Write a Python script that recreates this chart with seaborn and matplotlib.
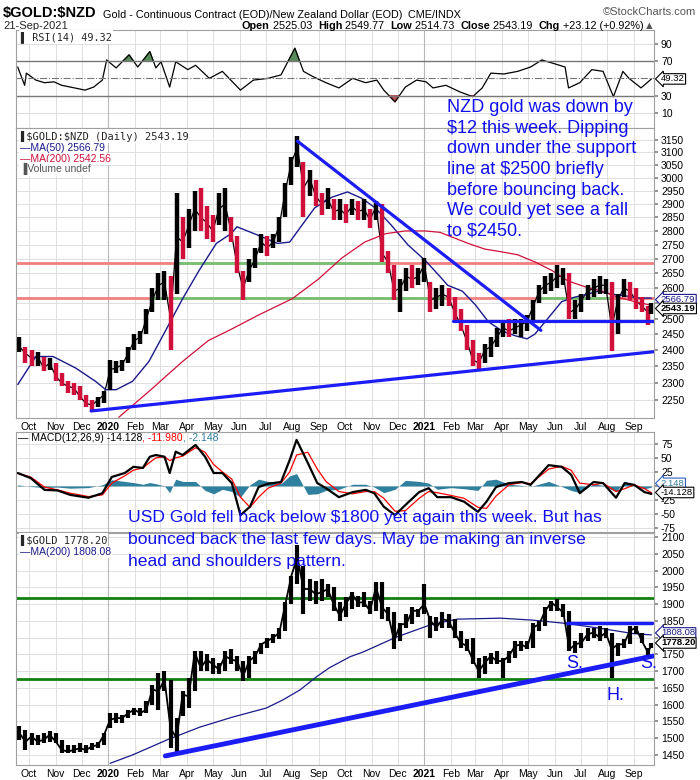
import numpy as np
import pandas as pd
import matplotlib
matplotlib.use("Agg")
import matplotlib.pyplot as plt
import matplotlib.ticker as ticker
import seaborn as sns

sns.set_theme(style="white")
plt.rcParams["font.family"] = ["Liberation Sans", "DejaVu Sans"]
plt.rcParams["text.parse_math"] = False  # dollar signs are plain text here

# ---------------- data ----------------
# weekly bars, Friday closes, last bar is 21-Sep-2021
weeks = list(pd.date_range("2019-09-20", periods=105, freq="W-FRI")) + [pd.Timestamp("2021-09-21")]

nzd_close = [2410, 2390, 2375, 2380, 2345, 2360, 2320, 2300, 2290, 2285,
             2260, 2240, 2235, 2250, 2265, 2340, 2345, 2355, 2390, 2430,
             2440, 2500, 2560, 2610, 2620, 2500, 2780, 2760, 2820, 2880,
             2850, 2830, 2800, 2880, 2900, 2800, 2680, 2600, 2660, 2700,
             2760, 2740, 2760, 2820, 2950, 3060, 3120, 2960, 3000, 2930,
             2900, 2920, 2870, 2880, 2860, 2890, 2870, 2880, 2840, 2890,
             2720, 2690, 2590, 2600, 2640, 2630, 2640, 2680, 2560, 2570,
             2580, 2570, 2520, 2480, 2430, 2370, 2360, 2400, 2410, 2440,
             2470, 2460, 2470, 2480, 2490, 2540, 2590, 2610, 2620, 2640,
             2640, 2520, 2530, 2560, 2590, 2600, 2610, 2610, 2470, 2560,
             2600, 2590, 2560, 2540, 2520, 2543]
nzd_high = [2440, 2410, 2400, 2395, 2380, 2375, 2360, 2330, 2305, 2300,
            2290, 2265, 2250, 2260, 2275, 2370, 2365, 2370, 2410, 2450,
            2460, 2530, 2600, 2650, 2660, 2640, 2940, 2850, 2880, 2950,
            2960, 2890, 2860, 2940, 2960, 2850, 2780, 2660, 2700, 2740,
            2790, 2780, 2790, 2850, 2980, 3080, 3165, 3060, 3030, 2990,
            2940, 2960, 2920, 2920, 2900, 2920, 2910, 2920, 2880, 2910,
            2900, 2730, 2680, 2630, 2670, 2680, 2670, 2705, 2620, 2600,
            2610, 2600, 2570, 2530, 2480, 2430, 2390, 2420, 2440, 2470,
            2490, 2500, 2500, 2500, 2510, 2560, 2610, 2640, 2650, 2680,
            2670, 2650, 2560, 2580, 2610, 2630, 2640, 2630, 2620, 2580,
            2630, 2620, 2600, 2570, 2540, 2550]
nzd_low = [2395, 2360, 2350, 2350, 2335, 2340, 2305, 2290, 2270, 2265,
           2250, 2230, 2220, 2230, 2240, 2280, 2330, 2335, 2360, 2400,
           2420, 2450, 2520, 2560, 2560, 2400, 2580, 2700, 2740, 2800,
           2800, 2770, 2760, 2820, 2800, 2760, 2650, 2560, 2620, 2670,
           2720, 2710, 2740, 2760, 2850, 2970, 3040, 2850, 2930, 2890,
           2860, 2880, 2840, 2840, 2830, 2860, 2840, 2840, 2810, 2840,
           2690, 2650, 2560, 2520, 2590, 2600, 2610, 2620, 2520, 2530,
           2540, 2540, 2490, 2460, 2400, 2350, 2338, 2360, 2380, 2410,
           2440, 2440, 2450, 2440, 2460, 2490, 2550, 2580, 2590, 2600,
           2610, 2500, 2500, 2520, 2560, 2570, 2580, 2580, 2397, 2450,
           2570, 2560, 2530, 2520, 2480, 2515]

usd_close = [1515, 1490, 1505, 1490, 1495, 1510, 1490, 1465, 1460, 1465,
             1470, 1465, 1475, 1480, 1510, 1555, 1560, 1560, 1575, 1585,
             1575, 1585, 1645, 1640, 1675, 1530, 1500, 1630, 1625, 1755,
             1710, 1735, 1720, 1705, 1745, 1735, 1730, 1685, 1730, 1745,
             1780, 1790, 1800, 1815, 1900, 1985, 2040, 1945, 1945, 1930,
             1935, 1945, 1900, 1865, 1900, 1930, 1905, 1905, 1880, 1950,
             1890, 1870, 1790, 1840, 1840, 1880, 1880, 1900, 1850, 1830,
             1855, 1850, 1815, 1785, 1775, 1735, 1700, 1725, 1745, 1730,
             1730, 1745, 1775, 1780, 1770, 1830, 1840, 1880, 1905, 1890,
             1875, 1765, 1780, 1785, 1810, 1815, 1800, 1815, 1765, 1780,
             1780, 1820, 1830, 1790, 1755, 1778]
usd_high = [1535, 1525, 1515, 1510, 1515, 1520, 1515, 1495, 1480, 1480,
            1485, 1480, 1485, 1490, 1515, 1575, 1575, 1570, 1585, 1590,
            1590, 1610, 1660, 1695, 1700, 1675, 1560, 1640, 1680, 1760,
            1760, 1750, 1740, 1725, 1760, 1765, 1745, 1730, 1745, 1760,
            1785, 1800, 1810, 1830, 1905, 1985, 2075, 2015, 1975, 1970,
            1975, 1960, 1950, 1905, 1920, 1935, 1925, 1935, 1910, 1965,
            1965, 1890, 1875, 1845, 1870, 1890, 1885, 1960, 1865, 1860,
            1875, 1870, 1855, 1820, 1795, 1800, 1740, 1745, 1755, 1760,
            1740, 1760, 1790, 1790, 1790, 1845, 1850, 1890, 1910, 1915,
            1900, 1880, 1790, 1815, 1830, 1830, 1835, 1830, 1815, 1785,
            1795, 1835, 1835, 1815, 1770, 1785]
usd_low = [1495, 1465, 1480, 1480, 1485, 1490, 1485, 1455, 1455, 1455,
           1460, 1455, 1465, 1470, 1480, 1530, 1545, 1545, 1560, 1570,
           1565, 1575, 1600, 1585, 1640, 1470, 1460, 1565, 1590, 1640,
           1700, 1700, 1690, 1690, 1700, 1720, 1700, 1670, 1680, 1720,
           1750, 1770, 1785, 1795, 1820, 1900, 1960, 1870, 1910, 1900,
           1910, 1920, 1880, 1850, 1860, 1885, 1890, 1890, 1870, 1880,
           1855, 1850, 1765, 1790, 1830, 1840, 1860, 1870, 1800, 1820,
           1830, 1830, 1800, 1770, 1760, 1720, 1680, 1690, 1720, 1720,
           1680, 1725, 1740, 1760, 1765, 1770, 1820, 1835, 1880, 1880,
           1860, 1760, 1755, 1770, 1790, 1800, 1790, 1800, 1680, 1745,
           1770, 1780, 1810, 1785, 1745, 1770]

ma50_dates = ["2019-09-18", "2019-10-09", "2019-10-29", "2019-11-24", "2019-12-17", "2019-12-29",
              "2020-01-10", "2020-01-29", "2020-02-17", "2020-03-08", "2020-03-27", "2020-04-15",
              "2020-05-05", "2020-05-22", "2020-05-29", "2020-06-22", "2020-07-15", "2020-07-29",
              "2020-08-12", "2020-08-27", "2020-09-16", "2020-10-04", "2020-10-21", "2020-11-05",
              "2020-11-24", "2020-12-13", "2021-01-02", "2021-01-19", "2021-01-28", "2021-02-14",
              "2021-03-01", "2021-03-16", "2021-04-01", "2021-04-16", "2021-04-30", "2021-05-09",
              "2021-05-24", "2021-06-09", "2021-06-24", "2021-07-09", "2021-07-21", "2021-08-06",
              "2021-08-21", "2021-09-05", "2021-09-21"]
ma50_vals = [2295, 2380, 2380, 2345, 2305, 2280, 2280, 2305, 2365, 2465, 2565, 2660, 2755, 2790, 2815,
             2785, 2755, 2760, 2820, 2885, 2925, 2945, 2920, 2885, 2820, 2750, 2695, 2640, 2610, 2590,
             2545, 2490, 2460, 2445, 2435, 2450, 2500, 2555, 2570, 2580, 2590, 2580, 2575, 2567, 2567]

ma200_dates = ["2020-01-13", "2020-02-17", "2020-03-27", "2020-04-26", "2020-05-22", "2020-06-22",
               "2020-08-01", "2020-08-31", "2020-09-28", "2020-10-24", "2020-11-17", "2020-12-10",
               "2021-01-02", "2021-01-19", "2021-02-21", "2021-03-12", "2021-04-01", "2021-04-19",
               "2021-05-09", "2021-05-29", "2021-06-16", "2021-07-06", "2021-07-26", "2021-08-13",
               "2021-09-02", "2021-09-21"]
ma200_vals = [2200, 2275, 2365, 2430, 2465, 2510, 2565, 2630, 2705, 2760, 2790, 2800, 2800, 2795,
              2755, 2735, 2725, 2715, 2690, 2660, 2625, 2605, 2590, 2570, 2555, 2543]

usd_ma200_dates = ["2020-01-03", "2020-01-29", "2020-03-09", "2020-04-16", "2020-05-24", "2020-07-02",
                   "2020-07-21", "2020-08-10", "2020-08-29", "2020-09-13", "2020-10-07", "2020-10-22",
                   "2020-11-30", "2021-01-08", "2021-02-08", "2021-03-30", "2021-05-07", "2021-06-15",
                   "2021-07-23", "2021-08-31", "2021-09-21"]
usd_ma200_vals = [1425, 1450, 1495, 1533, 1563, 1590, 1614, 1644, 1683, 1710, 1743, 1757, 1802, 1838,
                  1855, 1858, 1852, 1842, 1828, 1812, 1808]

rsi_dates = ["2019-09-18", "2019-09-26", "2019-09-28", "2019-10-09", "2019-10-19", "2019-10-30",
             "2019-11-08", "2019-11-18", "2019-12-05", "2019-12-15", "2019-12-25", "2019-12-30",
             "2020-01-10", "2020-01-25", "2020-02-04", "2020-02-18", "2020-02-25", "2020-03-02",
             "2020-03-12", "2020-03-19", "2020-04-02", "2020-04-11", "2020-04-27", "2020-05-12",
             "2020-06-02", "2020-06-17", "2020-07-04", "2020-07-19", "2020-08-04", "2020-08-14",
             "2020-08-25", "2020-09-09", "2020-09-24", "2020-10-10", "2020-10-25", "2020-11-07",
             "2020-11-15", "2020-11-28", "2020-12-10", "2020-12-23", "2021-01-03", "2021-01-11",
             "2021-01-26", "2021-02-11", "2021-02-26", "2021-03-09", "2021-03-19", "2021-04-03",
             "2021-04-19", "2021-05-04", "2021-05-17", "2021-05-31", "2021-06-13", "2021-06-17",
             "2021-06-30", "2021-07-14", "2021-07-27", "2021-08-08", "2021-08-19", "2021-08-26",
             "2021-09-09", "2021-09-21"]
rsi_vals = [63, 42, 56, 48, 45, 46, 42, 40, 36.5, 40, 48, 71, 62, 77, 63, 80.7, 62, 69, 40, 69,
            60, 65, 50, 58, 36.5, 48, 50, 54, 84.6, 58, 52, 45, 39, 50, 45, 48, 36.5, 23, 40, 48,
            46, 39, 42, 34.5, 29, 39, 56, 55, 58, 63, 71, 67, 63, 39, 45, 60, 58, 29, 58, 50,
            39, 49.32]

macd_dates = ["2019-09-18", "2019-10-03", "2019-10-19", "2019-11-03", "2019-11-18", "2019-12-09",
              "2019-12-25", "2020-01-05", "2020-01-20", "2020-01-30", "2020-02-10", "2020-02-18",
              "2020-02-25", "2020-03-06", "2020-03-12", "2020-03-19", "2020-03-27", "2020-04-11",
              "2020-04-22", "2020-05-02", "2020-05-12", "2020-05-23", "2020-06-02", "2020-06-13",
              "2020-06-23", "2020-07-04", "2020-07-19", "2020-07-29", "2020-08-06", "2020-08-19",
              "2020-08-30", "2020-09-09", "2020-09-24", "2020-10-10", "2020-10-25", "2020-11-04",
              "2020-11-15", "2020-11-28", "2020-12-10", "2020-12-26", "2021-01-06", "2021-01-16",
              "2021-02-01", "2021-02-16", "2021-03-04", "2021-03-14", "2021-03-25", "2021-04-09",
              "2021-04-24", "2021-05-04", "2021-05-25", "2021-06-09", "2021-06-20", "2021-06-30",
              "2021-07-16", "2021-07-27", "2021-08-11", "2021-08-21", "2021-09-01", "2021-09-13",
              "2021-09-21"]
macd_vals = [23, 14, -7, -8, -16, -21, -13, 16, 23, 34, 32, 52, 55, 52, 23, 61, 55, 73, 52, 23,
             23, 5, -52, -37, -2, 4, 7, 46, 82, 41, 5, -4, -20, -11, -7, -13, -37, -52, -34, -11,
             -4, -20, -20, -28, -46, -28, -2, 5, 7, 2, 37, 34, 20, -13, 7, 5, -21, 5, 2, -11,
             -14.128]
signal_vals = [22, 16, -2, -7, -13, -19, -16, 5, 18, 28, 32, 42, 50, 52, 45, 50, 53, 68, 60, 38,
               25, 12, -20, -38, -20, -4, 5, 25, 55, 60, 30, 8, -10, -14, -10, -10, -22, -45, -44, -22,
               -10, -12, -17, -22, -38, -40, -18, 2, 6, 4, 30, 35, 28, 5, 2, 5, -10, -5, 2, -5,
               -11.98]
hist_vals = [2, -1, -3, -2, -4, -3, 2, 11, 8, 6, 3, 6, 4, 0, -12, 12, 8, 8, -8, -14,
             -6, -10, -20, 2, 12, 8, 4, 18, 22, -15, -14, -8, -6, 3, 3, -2, -12, -6, 10, 8,
             5, -6, -3, -5, -8, 10, 12, 3, 1, -1, 8, -1, -8, -12, 4, 1, -10, 8, 1, -5,
             -2.148]

# hand drawn lines on the chart
nzd_resist = [2686, 2567]
nzd_down_dates, nzd_down_vals = ["2020-08-07", "2021-05-16"], [3145, 2462]
nzd_flat_dates, nzd_flat_vals = ["2021-02-03", "2021-09-24"], [2493, 2493]
nzd_up_dates, nzd_up_vals = ["2019-12-12", "2021-09-24"], [2218, 2395]
usd_levels = [1917, 1677]
usd_neck_dates, usd_neck_vals = ["2021-06-15", "2021-09-22"], [1843, 1843]
usd_up_dates, usd_up_vals = ["2020-03-07", "2021-09-23"], [1447, 1745]

W_PX, H_PX = 700, 780
X0, X1 = pd.Timestamp("2019-09-16"), pd.Timestamp("2021-09-24")
month_starts = pd.date_range("2019-10-01", "2021-09-01", freq="MS")
month_labels = [str(d.year) if d.month == 1 else d.strftime("%b") for d in month_starts]

BLUE_TXT = "#1010ee"
TREND = "#1c1cf5"
NAVY = "#1a1a8c"
CRIMSON = "#d0103a"

fig = plt.figure(figsize=(7, 7.8), dpi=100)


def panel(top, bottom):
    return fig.add_axes([16 / W_PX, 1 - bottom / H_PX, 638 / W_PX, (bottom - top) / H_PX])


def style(ax, ticks, hide=(), show_x=False):
    ax.set_xlim(X0, X1)
    ax.set_xticks(month_starts)
    ax.set_xticklabels(month_labels if show_x else [""] * len(month_starts))
    for lab in ax.get_xticklabels():
        if lab.get_text().startswith("20"):
            lab.set_fontweight("bold")
    ax.yaxis.tick_right()
    ax.yaxis.set_major_locator(ticker.FixedLocator(ticks))
    ax.yaxis.set_major_formatter(ticker.FixedFormatter(["" if t in hide else f"{t:g}" for t in ticks]))
    ax.yaxis.set_minor_locator(ticker.NullLocator())
    ax.yaxis.set_minor_formatter(ticker.NullFormatter())
    ax.grid(True, color="#dedede", lw=0.7)
    for d in ["2020-01-01", "2021-01-01"]:
        ax.axvline(pd.Timestamp(d), color="#b8b8b8", lw=0.8, zorder=0.6)
    for s in ax.spines.values():
        s.set_color("#a0a0a0")
        s.set_linewidth(0.8)
    ax.tick_params(axis="y", labelsize=7.5, length=3, pad=2, color="#888888", labelcolor="black")
    ax.tick_params(axis="x", labelsize=7.5, length=0, pad=3, labelcolor="black")
    ax.set_xlabel("")
    ax.set_ylabel("")


def tag(ax, y, s, color="black", ec="black", bold=False, dy=0):
    ax.annotate(s, xy=(1, y), xycoords=ax.get_yaxis_transform(), xytext=(5, dy),
                textcoords="offset points", ha="left", va="center", fontsize=6.8,
                color=color, fontweight="bold" if bold else "normal", annotation_clip=False,
                bbox=dict(boxstyle="larrow,pad=0.08", fc="white", ec=ec, lw=0.8))


# ---------------- RSI ----------------
ax_rsi = panel(30, 128)
rsi_x = pd.to_datetime(rsi_dates)
rsi_y = np.array(rsi_vals)
sns.lineplot(x=rsi_x, y=rsi_y, ax=ax_rsi, color="black", lw=0.9)
ax_rsi.fill_between(rsi_x, 70, rsi_y, where=rsi_y > 70, interpolate=True, color="#5b8a5b")
ax_rsi.fill_between(rsi_x, 30, rsi_y, where=rsi_y < 30, interpolate=True, color="#c05050")
ax_rsi.axhline(70, color="#777777", lw=1)
ax_rsi.axhline(30, color="#777777", lw=1)
ax_rsi.axhline(50, color="#777777", lw=0.8, ls="-.")
ax_rsi.set_ylim(-7, 105.5)
style(ax_rsi, [90, 70, 30, 10])
tag(ax_rsi, 49.32, "49.32")

# ---------------- NZD price ----------------
ax_p = panel(128, 418)
nzd = pd.DataFrame({"date": weeks, "close": nzd_close, "high": nzd_high, "low": nzd_low})
up = nzd["close"].diff().fillna(0) >= 0
ax_p.axhline(nzd_resist[0], color="#f28080", lw=2, zorder=1)
ax_p.axhline(nzd_resist[1], color="#f28080", lw=2, zorder=1)
ax_p.hlines(nzd_resist[0], pd.Timestamp("2020-03-19"), pd.Timestamp("2020-11-17"), color="#74c474", lw=2, zorder=1.1)
ax_p.hlines(nzd_resist[1], pd.Timestamp("2020-02-17"), pd.Timestamp("2021-01-25"), color="#74c474", lw=2, zorder=1.1)
ax_p.hlines(nzd_resist[1], pd.Timestamp("2021-05-12"), pd.Timestamp("2021-08-04"), color="#74c474", lw=2, zorder=1.1)
sns.lineplot(data=nzd, x="date", y="close", ax=ax_p, color="black", lw=0.9)
ax_p.vlines(nzd["date"], nzd["low"], nzd["high"], colors=np.where(up, "black", CRIMSON), lw=3.2, zorder=2.2)
sns.lineplot(x=pd.to_datetime(ma50_dates), y=ma50_vals, ax=ax_p, color=NAVY, lw=1)
sns.lineplot(x=pd.to_datetime(ma200_dates), y=ma200_vals, ax=ax_p, color=CRIMSON, lw=0.9)
ax_p.plot(pd.to_datetime(nzd_down_dates), nzd_down_vals, color=TREND, lw=2.3, zorder=3)
ax_p.plot(pd.to_datetime(nzd_flat_dates), nzd_flat_vals, color=TREND, lw=2.3, zorder=3)
ax_p.plot(pd.to_datetime(nzd_up_dates), nzd_up_vals, color=TREND, lw=2.3, zorder=3)
ax_p.set_yscale("log")
ax_p.set_ylim(2198, 3199)
style(ax_p, list(range(2250, 3200, 50)), hide=(2550,), show_x=True)
tag(ax_p, 2566.79, "2566.79", color=NAVY, ec=NAVY, dy=-1.1)
tag(ax_p, 2543.19, "2543.19", bold=True, dy=-2.3)

# ---------------- MACD ----------------
ax_m = panel(432, 532)
mx = pd.to_datetime(macd_dates)
ax_m.fill_between(mx, 0, hist_vals, color="#2f7f9f", lw=0)
sns.lineplot(x=mx, y=signal_vals, ax=ax_m, color="red", lw=0.9)
sns.lineplot(x=mx, y=macd_vals, ax=ax_m, color="black", lw=1.6)
ax_m.set_ylim(-82, 96)
style(ax_m, [75, 50, 25, 0, -25, -50, -75], hide=(0,))
tag(ax_m, 2.148, "2.148", color="#2f7f9f", ec="#3060c0", dy=1)
tag(ax_m, -14.128, "-14.128", dy=1)

# ---------------- USD gold ----------------
ax_u = panel(533, 765)
usd = pd.DataFrame({"date": weeks, "close": usd_close, "high": usd_high, "low": usd_low})
for lvl in usd_levels:
    ax_u.axhline(lvl, color="#108010", lw=2, zorder=1)
sns.lineplot(x=pd.to_datetime(usd_ma200_dates), y=usd_ma200_vals, ax=ax_u, color=NAVY, lw=0.9)
sns.lineplot(data=usd, x="date", y="close", ax=ax_u, color="black", lw=1.3)
ax_u.vlines(usd["date"], usd["low"], usd["high"], colors="black", lw=3.0, zorder=2.2)
ax_u.plot(pd.to_datetime(usd_neck_dates), usd_neck_vals, color=TREND, lw=2.5, zorder=3)
ax_u.plot(pd.to_datetime(usd_up_dates), usd_up_vals, color=TREND, lw=3.5, zorder=3)
ax_u.set_ylim(1420, 2112)
style(ax_u, list(range(1450, 2101, 50)), hide=(1800,), show_x=True)
tag(ax_u, 1808.08, "1808.08", color=NAVY, ec=NAVY, dy=1.4)
tag(ax_u, 1778.20, "1778.20", bold=True, dy=1.4)

# ---------------- text overlay (pixel coordinates) ----------------
ov = fig.add_axes([0, 0, 1, 1], zorder=10)
ov.set_xlim(0, W_PX)
ov.set_ylim(H_PX, 0)
ov.axis("off")
ov.patch.set_alpha(0)


def chain(x, y, parts, size=8):
    prev = None
    for s, w, c, fs in parts:
        if prev is None:
            prev = ov.text(x, y, s, fontsize=fs or size, fontweight=w, color=c, va="baseline")
        else:
            prev = ov.annotate(s, xy=(1, 0), xycoords=prev, va="bottom", ha="left",
                               fontsize=fs or size, fontweight=w, color=c)
    return prev


chain(3, 17, [("$GOLD:$NZD", "bold", "black", 10.5),
              ("  Gold - Continuous Contract (EOD)/New Zealand Dollar (EOD)", "normal", "black", None),
              ("  CME/INDX", "normal", "black", None)], size=7.8)
ov.text(696, 12, "©StockCharts.com", ha="right", va="center", fontsize=8, color="#555555")
ov.text(3, 26, "21-Sep-2021", va="center", fontsize=8)
chain(242, 29, [("Open", "bold", "black", None), (" 2525.03  ", "normal", "black", None),
                ("High", "bold", "black", None), (" 2549.77  ", "normal", "black", None),
                ("Low", "bold", "black", None), (" 2514.73  ", "normal", "black", None),
                ("Close", "bold", "black", None), (" 2543.19  ", "normal", "black", None),
                ("Chg", "bold", "black", None), (" +23.12 (+0.92%)", "normal", "black", None),
                ("\u25b2", "normal", "#555555", None)], size=7.8)

mono = ["DejaVu Sans Mono"]
ov.text(20, 37, "\u258c RSI(14) 49.32", va="center", fontsize=7.3, family=mono,
        bbox=dict(fc="white", ec="none", pad=0.5))
ov.text(20, 136, "\u258c$GOLD:$NZD (Daily) 2543.19", va="center", fontsize=7.5, family=mono,
        bbox=dict(fc="white", ec="none", pad=0.5))
ov.text(20, 148, "\u2014MA(50) 2566.79", va="center", fontsize=7.5, color=NAVY,
        bbox=dict(fc="white", ec="none", pad=0.5))
ov.text(20, 159, "\u2014MA(200) 2542.56", va="center", fontsize=7.5, color=CRIMSON,
        bbox=dict(fc="white", ec="none", pad=0.5))
ov.text(20, 169, "\u2590Volume undef", va="center", fontsize=7.5, color="#555555",
        bbox=dict(fc="white", ec="none", pad=0.5))
chain(18, 441, [("\u2014 MACD(12,26,9) -14.128", "normal", "black", None),
                (", -11.980", "normal", "red", None),
                (", -2.148", "normal", "#2f7f9f", None)], size=7.5)
ov.text(20, 540, "\u258c$GOLD 1778.20", va="center", fontsize=7.5, family=mono,
        bbox=dict(fc="white", ec="none", pad=0.5))
ov.text(20, 552, "\u2014MA(200) 1808.08", va="center", fontsize=7.5, color=NAVY,
        bbox=dict(fc="white", ec="none", pad=0.5))

ov.text(447, 169.5, "NZD gold was down by\n$12 this week. Dipping\ndown under the support\n"
        "line at $2500 briefly\nbefore bouncing back.\nWe could yet see a fall\nto $2450.",
        va="center", ha="left", fontsize=13, color=BLUE_TXT, linespacing=1.27)
ov.text(128, 539.5, "USD Gold fell back below $1800 yet again this week. But has\n"
        "bounced back the last few days. May be making an inverse\nhead and shoulders pattern.",
        va="center", ha="left", fontsize=12.6, color=BLUE_TXT, linespacing=1.55)
ov.text(566, 663, "S.", va="center", fontsize=13, color=BLUE_TXT)
ov.text(640, 663, "S.", va="center", fontsize=13, color=BLUE_TXT)
ov.text(606, 696, "H.", va="center", fontsize=13, color=BLUE_TXT)

fig.savefig("out.png", dpi=100)
